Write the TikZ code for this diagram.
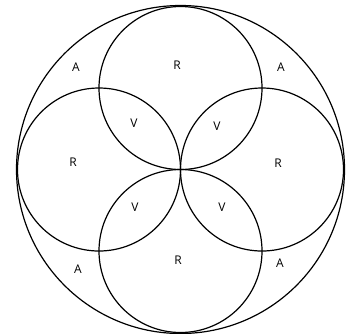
\documentclass[tikz,border=0pt]{standalone}
\usepackage{fontspec}
\setmainfont{Open Sans}
\begin{document}
\begin{tikzpicture}[x=1pt,y=-1pt,
  ring/.style={draw=black,line width=1.2pt},
  lbl/.style={font=\fontsize{12}{12}\selectfont,inner sep=0pt}]
\useasboundingbox (0,0) rectangle (355,333);
\coordinate (c) at (180.5,169.5);
\node[ring,circle,minimum size=328pt,inner sep=0pt] (big) at (c) {};
\node[ring,circle,minimum size=163pt,inner sep=0pt] (top) at (180.5,88) {};
\node[ring,circle,minimum size=163pt,inner sep=0pt] (bot) at (180.5,251) {};
\node[ring,circle,minimum size=163pt,inner sep=0pt] (lft) at (99,169.5) {};
\node[ring,circle,minimum size=163pt,inner sep=0pt] (rgt) at (262,169.5) {};
\node[lbl] (a1) at (76,67) {A};
\node[lbl] (r1) at (177,65) {R};
\node[lbl] (a2) at (281,67) {A};
\node[lbl] (v1) at (134,123) {V};
\node[lbl] (v2) at (217,126) {V};
\node[lbl] (r2) at (73,162) {R};
\node[lbl] (r3) at (278,163) {R};
\node[lbl] (v3) at (135,207) {V};
\node[lbl] (v4) at (222,207) {V};
\node[lbl] (r4) at (178,260) {R};
\node[lbl] (a3) at (78,269) {A};
\node[lbl] (a4) at (280,263) {A};
\end{tikzpicture}
\end{document}
